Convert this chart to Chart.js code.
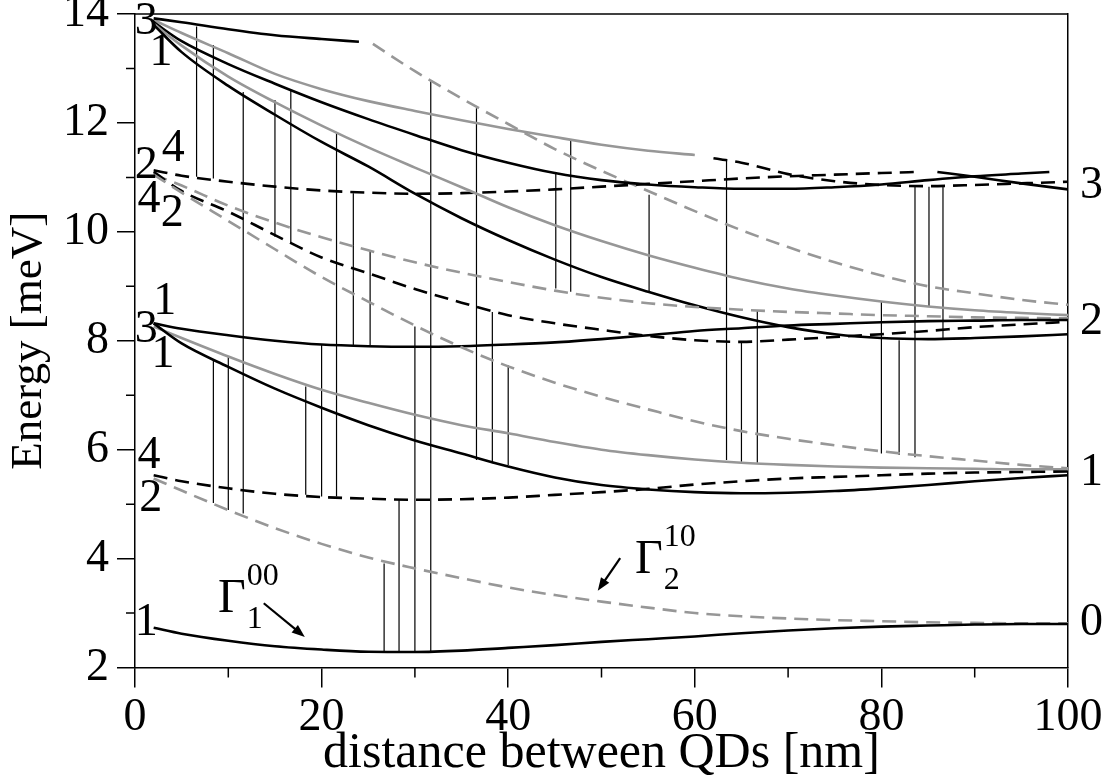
<!DOCTYPE html>
<html>
<head>
<meta charset="utf-8">
<script src="https://cdn.jsdelivr.net/npm/chart.js@4.4.1/dist/chart.umd.min.js"></script>
<style>
  body { margin: 0; background: #fff; }
  #wrap { width: 1113px; height: 782px; }
</style>
</head>
<body>
<div id="wrap"><canvas id="levels" width="1113" height="782"></canvas></div>
<script>
// distance between the dots (nm), shared by the full-range curves
var dist = [2, 5, 10, 15, 20, 25, 30, 35, 40, 45, 50, 55, 60, 65, 70, 75, 80, 85, 90, 95, 100];

// shell 0
var ground    = [2.73, 2.62, 2.49, 2.39, 2.33, 2.29, 2.285, 2.31, 2.36, 2.41, 2.47, 2.52, 2.57, 2.63, 2.68, 2.72, 2.75, 2.77, 2.79, 2.80, 2.80];
var gamma2    = [5.47, 5.25, 4.89, 4.56, 4.27, 4.02, 3.82, 3.64, 3.47, 3.33, 3.21, 3.10, 3.00, 2.94, 2.90, 2.87, 2.85, 2.83, 2.82, 2.81, 2.81];

// shell 1
var s1Dashed  = [5.53, 5.42, 5.29, 5.19, 5.13, 5.10, 5.08, 5.09, 5.12, 5.17, 5.22, 5.28, 5.36, 5.42, 5.47, 5.50, 5.53, 5.56, 5.58, 5.59, 5.60];
var s1Solid   = [8.32, 7.95, 7.52, 7.12, 6.77, 6.45, 6.17, 5.93, 5.69, 5.49, 5.35, 5.27, 5.22, 5.20, 5.21, 5.24, 5.29, 5.35, 5.42, 5.48, 5.53];
var s1Gray    = [8.26, 8.05, 7.71, 7.39, 7.10, 6.86, 6.64, 6.45, 6.30, 6.14, 6.00, 5.90, 5.82, 5.76, 5.72, 5.69, 5.67, 5.66, 5.65, 5.64, 5.64];
var s1GrayDsh = [11.05, 10.72, 10.20, 9.68, 9.17, 8.72, 8.28, 7.88, 7.53, 7.23, 6.97, 6.74, 6.52, 6.34, 6.20, 6.08, 5.97, 5.88, 5.80, 5.72, 5.66];

// shell 2
var s2Solid   = [8.32, 8.22, 8.10, 8.00, 7.93, 7.90, 7.89, 7.90, 7.93, 7.97, 8.03, 8.10, 8.18, 8.23, 8.28, 8.31, 8.34, 8.36, 8.37, 8.38, 8.38];
var s2Dashed  = [11.10, 10.75, 10.37, 9.94, 9.53, 9.24, 8.95, 8.70, 8.47, 8.32, 8.20, 8.09, 8.01, 7.98, 8.02, 8.07, 8.12, 8.18, 8.25, 8.30, 8.35];
var s2GrayDsh = [11.05, 10.85, 10.48, 10.17, 9.90, 9.66, 9.44, 9.25, 9.08, 8.92, 8.79, 8.69, 8.62, 8.57, 8.53, 8.50, 8.47, 8.45, 8.43, 8.42, 8.41];
var s2Fall    = [13.80, 13.30, 12.68, 12.15, 11.65, 11.20, 10.70, 10.25, 9.85, 9.49, 9.17, 8.90, 8.65, 8.43, 8.25, 8.12, 8.05, 8.03, 8.05, 8.08, 8.12];
var s2GrayFall= [13.82, 13.42, 12.85, 12.38, 11.95, 11.55, 11.18, 10.82, 10.45, 10.12, 9.83, 9.57, 9.34, 9.13, 8.96, 8.83, 8.72, 8.63, 8.56, 8.51, 8.47];

// shell 3 (several branches stop part way)
var midDist   = [2, 5, 10, 15, 20, 25, 30, 35, 40, 45, 50, 55, 60, 65, 70, 75, 80, 85, 90, 95, 98];
var s3Solid   = [13.85, 13.50, 13.08, 12.72, 12.38, 12.07, 11.78, 11.50, 11.27, 11.08, 10.95, 10.87, 10.82, 10.79, 10.79, 10.82, 10.87, 10.95, 11.02, 11.07, 11.10];
var dashDist  = [2, 5, 10, 15, 20, 25, 30, 35, 40, 45, 50, 55, 60, 65, 70, 75, 80, 84];
var s3Dashed  = [11.13, 11.03, 10.92, 10.83, 10.76, 10.72, 10.70, 10.71, 10.74, 10.78, 10.83, 10.88, 10.93, 10.98, 11.02, 11.05, 11.08, 11.10];
var topDist   = [2, 5, 10, 15, 20, 24];
var topSolid  = [13.92, 13.85, 13.72, 13.61, 13.54, 13.49];
var fallDist  = [25.5, 30, 35, 40, 45, 50, 55, 60, 65, 70, 75, 80, 85, 90, 95, 100];
var topGrayDsh= [13.45, 12.95, 12.45, 11.98, 11.52, 11.12, 10.75, 10.38, 10.03, 9.72, 9.44, 9.20, 9.00, 8.87, 8.75, 8.66];
var grayDist  = [2, 5, 10, 15, 20, 25, 30, 35, 40, 45, 50, 55, 60];
var topGray   = [13.89, 13.65, 13.28, 12.90, 12.62, 12.40, 12.22, 12.05, 11.89, 11.74, 11.60, 11.49, 11.41];
var lateDist  = [62, 65, 70, 75, 80, 85, 90, 95, 100];
var lateDashed= [11.35, 11.27, 11.06, 10.93, 10.86, 10.84, 10.86, 10.89, 10.92];
var tailDist  = [86, 90, 95, 100];
var tailSolid = [11.10, 11.01, 10.89, 10.78];

// vertical transition bars: position and the two energies they join
var transX    = [6.6, 8.4, 8.4, 10.0, 11.6, 15.0, 16.7, 18.3, 20.0, 21.6, 23.4, 25.2, 26.7, 28.3, 30.0, 31.7,
                 36.6, 38.3, 40.0, 45.1, 46.7, 55.1, 63.4, 65.0, 66.7, 80.0, 81.9, 83.6, 85.1, 86.6];
var transLow  = [11.01, 10.98, 5.02, 4.89, 4.83, 9.91, 9.78, 5.17, 5.14, 5.14, 7.92, 7.92, 2.29, 2.29, 2.29, 2.29,
                 5.81, 5.75, 5.72, 8.96, 8.90, 8.90, 5.81, 5.78, 5.76, 5.93, 5.90, 5.86, 8.63, 8.04];
var transHigh = [13.77, 13.43, 7.65, 7.71, 12.57, 12.42, 12.60, 7.16, 7.92, 11.81, 10.71, 9.64, 3.91, 5.09, 8.26, 12.79,
                 12.27, 8.53, 7.55, 11.07, 11.69, 10.68, 11.32, 7.98, 8.56, 8.72, 8.01, 10.83, 10.83, 10.83];

// shell numbers on the right edge
var shellEnergy = [2.81, 5.57, 8.35, 10.85];
var shellLabel  = ['0', '1', '2', '3'];

var minorX = [10, 30, 50, 70, 90];
var minorY = [3, 5, 7, 9, 11, 13];

var BLACK = '#000000';
var GRAY = '#979797';
var SERIF = '"Liberation Serif", "DejaVu Serif", serif';

// degeneracy numbers next to the starting points: text, distance, energy
var startLabels = [
  ['3', 1.2, 13.85], ['1', 2.8, 13.28],
  ['2', 1.2, 11.21], ['4', 4.1, 11.52],
  ['4', 1.5, 10.58], ['2', 4.0, 10.33],
  ['1', 3.2, 8.71], ['3', 1.2, 8.20], ['1', 3.0, 7.74],
  ['4', 1.5, 5.88], ['2', 1.7, 5.09],
  ['1', 1.2, 2.82]
];

function curve(xs, ys, color, dashed) {
  return {
    data: xs.map(function (d, i) { return { x: d, y: ys[i] }; }),
    borderColor: color,
    borderWidth: 2.6,
    borderDash: dashed ? [14, 8] : [],
    pointRadius: 0,
    showLine: true,
    fill: false,
    cubicInterpolationMode: 'monotone',
    order: 1
  };
}

var datasets = [
  curve(dist, ground, BLACK, false),
  curve(dist, gamma2, GRAY, true),
  curve(dist, s1Dashed, BLACK, true),
  curve(dist, s1Solid, BLACK, false),
  curve(dist, s1Gray, GRAY, false),
  curve(dist, s1GrayDsh, GRAY, true),
  curve(dist, s2Solid, BLACK, false),
  curve(dist, s2Dashed, BLACK, true),
  curve(dist, s2GrayDsh, GRAY, true),
  curve(dist, s2Fall, BLACK, false),
  curve(dist, s2GrayFall, GRAY, false),
  curve(midDist, s3Solid, BLACK, false),
  curve(dashDist, s3Dashed, BLACK, true),
  curve(topDist, topSolid, BLACK, false),
  curve(fallDist, topGrayDsh, GRAY, true),
  curve(grayDist, topGray, GRAY, false),
  curve(lateDist, lateDashed, BLACK, true),
  curve(tailDist, tailSolid, BLACK, false)
];

transX.forEach(function (d, i) {
  datasets.push({
    data: [{ x: d, y: transLow[i] }, { x: d, y: transHigh[i] }],
    borderColor: BLACK,
    borderWidth: 1.2,
    pointRadius: 0,
    showLine: true,
    fill: false,
    order: 2
  });
});

// frame, minor ticks, start labels and the two Gamma annotations
const decorations = {
  id: 'decorations',
  afterDraw(chart) {
    const { ctx, chartArea: { left, right, top, bottom }, scales: { x, y } } = chart;
    ctx.save();
    ctx.strokeStyle = BLACK;
    ctx.lineWidth = 1.5;
    ctx.beginPath();
    ctx.moveTo(left, top);
    ctx.lineTo(right, top);
    ctx.stroke();

    ctx.beginPath();
    minorX.forEach(function (v) {
      var px = x.getPixelForValue(v);
      ctx.moveTo(px, bottom);
      ctx.lineTo(px, bottom + 10);
    });
    minorY.forEach(function (v) {
      var py = y.getPixelForValue(v);
      ctx.moveTo(left, py);
      ctx.lineTo(left - 9, py);
    });
    ctx.stroke();

    ctx.fillStyle = BLACK;
    ctx.font = '46px ' + SERIF;
    ctx.textAlign = 'center';
    ctx.textBaseline = 'middle';
    startLabels.forEach(function (l) {
      ctx.fillText(l[0], x.getPixelForValue(l[1]), y.getPixelForValue(l[2]));
    });

    drawGamma(ctx, x, y, '1', '00', 8.9, 3.02);
    drawArrow(ctx, x.getPixelForValue(13.8), y.getPixelForValue(3.18),
                   x.getPixelForValue(18.2), y.getPixelForValue(2.56));
    drawGamma(ctx, x, y, '2', '10', 53.6, 3.74);
    drawArrow(ctx, x.getPixelForValue(52.0), y.getPixelForValue(4.01),
                   x.getPixelForValue(49.6), y.getPixelForValue(3.41));
    ctx.restore();
  }
};

function drawGamma(ctx, x, y, sub, sup, d, e) {
  var px = x.getPixelForValue(d), py = y.getPixelForValue(e);
  ctx.textAlign = 'left';
  ctx.textBaseline = 'alphabetic';
  ctx.font = '48px ' + SERIF;
  ctx.fillText('\u0393', px, py);
  var w = ctx.measureText('\u0393').width;
  ctx.font = '32px ' + SERIF;
  ctx.fillText(sup, px + w + 1, py - 27);
  ctx.fillText(sub, px + w + 1, py + 16);
}

function drawArrow(ctx, x1, y1, x2, y2) {
  var a = Math.atan2(y2 - y1, x2 - x1);
  ctx.lineWidth = 2.2;
  ctx.beginPath();
  ctx.moveTo(x1, y1);
  ctx.lineTo(x2 - 6 * Math.cos(a), y2 - 6 * Math.sin(a));
  ctx.stroke();
  ctx.beginPath();
  ctx.moveTo(x2, y2);
  ctx.lineTo(x2 - 13 * Math.cos(a) + 5 * Math.sin(a), y2 - 13 * Math.sin(a) - 5 * Math.cos(a));
  ctx.lineTo(x2 - 13 * Math.cos(a) - 5 * Math.sin(a), y2 - 13 * Math.sin(a) + 5 * Math.cos(a));
  ctx.closePath();
  ctx.fill();
}

// the tick labels may hang past the plot box, as in a printed figure
function noVerticalPad(s) { s.paddingTop = 0; s.paddingBottom = 0; }

const config = {
  type: 'scatter',
  data: { datasets: datasets },
  options: {
    responsive: false,
    animation: false,
    events: [],
    layout: { padding: { top: 14, left: 0, right: 0, bottom: 0 } },
    plugins: { legend: { display: false }, tooltip: { enabled: false } },
    scales: {
      x: {
        type: 'linear', min: 0, max: 100,
        ticks: { stepSize: 20, color: BLACK, font: { family: SERIF, size: 46 }, padding: 3, maxRotation: 0, autoSkip: false },
        grid: { drawOnChartArea: false, tickLength: 20, color: BLACK, lineWidth: 1.5 },
        border: { color: BLACK, width: 1.5 },
        title: { display: true, text: 'distance between QDs [nm]', color: BLACK, font: { family: SERIF, size: 50, lineHeight: 1.0 }, padding: { top: 0, bottom: 3 } },
        afterFit: function (s) { s.height = 114.5; s.paddingLeft = 0; s.paddingRight = 0; }
      },
      y: {
        type: 'linear', min: 2, max: 14,
        ticks: { stepSize: 2, color: BLACK, font: { family: SERIF, size: 46 }, padding: 8 },
        grid: { drawOnChartArea: false, tickLength: 18, color: BLACK, lineWidth: 1.5 },
        border: { color: BLACK, width: 1.5 },
        title: { display: true, text: 'Energy [meV]', color: BLACK, font: { family: SERIF, size: 45 }, padding: { top: 2, bottom: 0 } },
        afterFit: function (s) { s.width = 135; noVerticalPad(s); }
      },
      shell: {
        type: 'linear', position: 'right', min: 2, max: 14,
        afterBuildTicks: function (s) { s.ticks = shellEnergy.map(function (v) { return { value: v }; }); },
        ticks: {
          color: BLACK, font: { family: SERIF, size: 46 }, padding: 12, autoSkip: false,
          callback: function (v, i) { return shellLabel[i]; }
        },
        grid: { drawOnChartArea: false, drawTicks: false },
        border: { color: BLACK, width: 1.5 },
        afterFit: function (s) { s.width = 45; noVerticalPad(s); }
      }
    }
  },
  plugins: [decorations]
};

const levelChart = new Chart(document.getElementById('levels'), config);
</script>
</body>
</html>
